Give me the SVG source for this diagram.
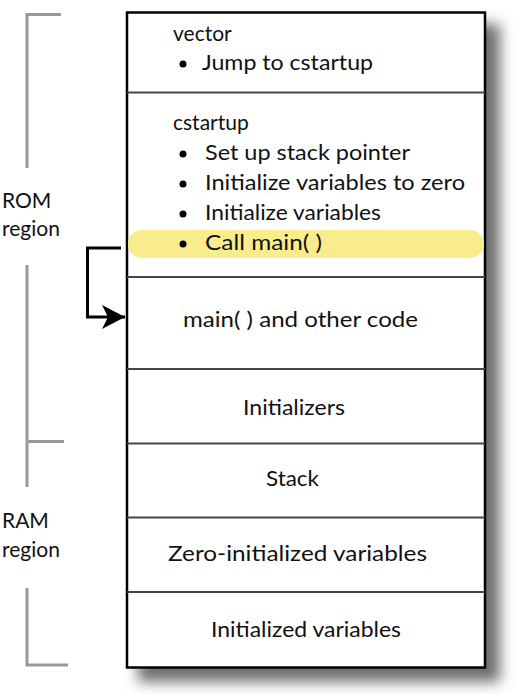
<svg xmlns="http://www.w3.org/2000/svg" width="517" height="694" viewBox="0 0 517 694">
<defs>
<filter id="blur" x="-20%" y="-20%" width="140%" height="140%"><feGaussianBlur stdDeviation="7"/></filter>
<marker id="ah" markerWidth="24" markerHeight="28" refX="23" refY="14" orient="auto" markerUnits="userSpaceOnUse">
<path d="M0,2 L23,14 L0,26 L6,14 Z" fill="#000"/>
</marker>
<style>
text{font-family:Lato,"Open Sans","Liberation Sans",sans-serif;font-size:21px;fill:#111}
.br{stroke:#999;stroke-width:3;fill:none}
.div{stroke:#444;stroke-width:2}
</style>
</defs>
<rect width="517" height="694" fill="#fff"/>
<g id="shadow"><rect x="138" y="24" width="362" height="658" fill="#6e6e6e" filter="url(#blur)"/></g>
<g id="brackets">
<path class="br" d="M61,14.5 H27 V168"/>
<path class="br" d="M27,265 V487 M27,441.5 H64"/>
<path class="br" d="M27,588 V665 H68"/>
</g>
<g id="labels">
<text x="2" y="208">ROM</text>
<text x="2" y="236">region</text>
<text x="2" y="528">RAM</text>
<text x="2" y="557">region</text>
</g>
<g id="memory">
<rect x="127" y="12.5" width="358" height="655" fill="#fff" stroke="#000" stroke-width="2.5"/>
<rect id="highlight" x="128" y="230" width="356" height="28" rx="14" fill="#f9ec8c"/>
<line class="div" x1="127" y1="92.5" x2="485" y2="92.5"/>
<line class="div" x1="127" y1="277" x2="485" y2="277"/>
<line class="div" x1="127" y1="369" x2="485" y2="369"/>
<line class="div" x1="127" y1="443.5" x2="485" y2="443.5"/>
<line class="div" x1="127" y1="517.5" x2="485" y2="517.5"/>
<line class="div" x1="127" y1="592" x2="485" y2="592"/>
</g>
<g id="vector">
<text x="173" y="41">vector</text>
<circle cx="183" cy="64" r="3.5" fill="#000"/>
<text x="202" y="70" textLength="171" lengthAdjust="spacingAndGlyphs">Jump to cstartup</text>
</g>
<g id="cstartup">
<text x="173" y="130">cstartup</text>
<circle cx="183" cy="154" r="3.5" fill="#000"/>
<text x="205" y="160" textLength="205" lengthAdjust="spacingAndGlyphs">Set up stack pointer</text>
<circle cx="183" cy="184" r="3.5" fill="#000"/>
<text x="205" y="190" textLength="260" lengthAdjust="spacingAndGlyphs">Initialize variables to zero</text>
<circle cx="183" cy="214" r="3.5" fill="#000"/>
<text x="205" y="220" textLength="176" lengthAdjust="spacingAndGlyphs">Initialize variables</text>
<circle cx="183" cy="244" r="3.5" fill="#000"/>
<text x="205" y="250" textLength="117" lengthAdjust="spacingAndGlyphs">Call main( )</text>
</g>
<g id="main-code"><text x="183" y="327" textLength="235" lengthAdjust="spacingAndGlyphs">main( ) and other code</text></g>
<g id="initializers"><text x="243" y="415" textLength="102" lengthAdjust="spacingAndGlyphs">Initializers</text></g>
<g id="stack"><text x="266" y="486" textLength="53" lengthAdjust="spacingAndGlyphs">Stack</text></g>
<g id="zero-init"><text x="168" y="561" textLength="259" lengthAdjust="spacingAndGlyphs">Zero-initialized variables</text></g>
<g id="init-vars"><text x="211" y="637" textLength="190" lengthAdjust="spacingAndGlyphs">Initialized variables</text></g>
<g id="connectors">
<path d="M121,248 H87.5 V317 H125" fill="none" stroke="#000" stroke-width="3" marker-end="url(#ah)"/>
</g>
</svg>
